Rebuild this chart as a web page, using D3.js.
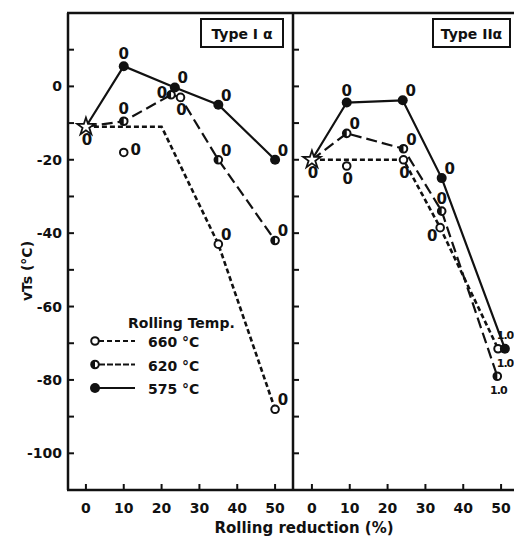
<!DOCTYPE html>
<html>
<head>
<meta charset="utf-8">
<script src="https://cdn.jsdelivr.net/npm/d3@7"></script>
<style>
  body { margin: 0; background: #fff; }
  text { font-family: "DejaVu Sans", sans-serif; fill: #111; }
</style>
</head>
<body>
<script>
    // ---- data ----
    var xTicks = [0, 10, 20, 30, 40, 50];
    var yTickLabels = [0, -20, -40, -60, -80, -100];
    var yMinorTicks = [10, 0, -10, -20, -30, -40, -50, -60, -70, -80, -90, -100];
    var seriesNames = ['660 °C', '620 °C', '575 °C'];
    var panelTitles = ['Type I α', 'Type IIα'];

    // Type I alpha
    var startI = [0, -11];
    var line660I = [[0, -11], [20, -11], [35, -43], [50, -88]];
    var pts660I = [[10, -18], [25, -3], [35, -43], [50, -88]];
    var line620I = [[0, -11], [10, -9.5], [22.5, -2.3], [25, -3], [35, -20], [50, -42]];
    var pts620I = [[10, -9.5], [22.5, -2.3], [35, -20], [50, -42]];
    var line575I = [[0, -11], [10, 5.5], [23.5, -0.3], [35, -5], [50, -20]];

    // Type II alpha
    var startII = [0, -20];
    var line660II = [[0, -20], [24.2, -20], [33.9, -38.5], [49.2, -71.5]];
    var pts660II = [[9.2, -21.7], [24.2, -20], [33.9, -38.5], [49.2, -71.5]];
    var line620II = [[0, -20], [9.2, -12.8], [24.2, -17], [34.3, -34], [49, -79]];
    var line575II = [[0, -20], [9.2, -4.4], [24, -3.8], [34.3, -25], [51, -71.5]];

    // small "0" / "1.0" notes next to the points: [x, y, text, side]
    var notesI = [
        [0, -11, '0', 's'], [10, 5.5, '0', 'n'], [10, -9.5, '0', 'n'], [10, -18, '0', 'e'],
        [23.5, -0.3, '0', 'ne'], [22.5, -2.3, '0', 'w'], [25, -3, '0', 's'],
        [35, -5, '0', 'ne'], [35, -20, '0', 'ne'], [50, -20, '0', 'ne'],
        [35, -43, '0', 'ne'], [50, -42, '0', 'ne'], [50, -88, '0', 'ne']
    ];
    var notesII = [
        [0, -20, '0', 's'], [9.2, -4.4, '0', 'n'], [24, -3.8, '0', 'ne'],
        [9.2, -12.8, '0', 'ne'], [24.2, -17, '0', 'ne'], [9.2, -21.7, '0', 's'],
        [24.2, -20, '0', 's'], [34.3, -25, '0', 'ne'], [34.3, -34, '0', 'n'],
        [33.9, -38.5, '0', 'sw'], [51, -71.5, '1.0', 'nn'], [49.2, -71.5, '1.0', 'se'],
        [49, -79, '1.0', 's']
    ];

    // ---- layout ----
    var W = 514, H = 537, plotTop = 13, plotBottom = 490;
    var svg = d3.select('body').append('svg').attr('width', W).attr('height', H);

    var y = d3.scaleLinear().domain([-110, 20]).range([plotBottom, plotTop]);
    var xI = d3.scaleLinear().domain([-5, 55]).range([67, 294]);
    var xII = d3.scaleLinear().domain([-5, 55]).range([293, 520]);

    var offs = {
        n: [0, -12], s: [1, 13], e: [12, -2], w: [-9, -2],
        ne: [8, -9], sw: [-8, 8], se: [8, 13], nn: [3, -15]
    };

    // frame
    var frame = svg.append('g').attr('stroke', '#111').attr('stroke-width', 2.5).attr('fill', 'none');
    frame.append('line').attr('x1', 67).attr('x2', W).attr('y1', plotTop).attr('y2', plotTop);
    frame.append('line').attr('x1', 67).attr('x2', W).attr('y1', plotBottom).attr('y2', plotBottom);
    frame.append('line').attr('x1', 68).attr('x2', 68).attr('y1', plotTop).attr('y2', plotBottom);
    frame.append('line').attr('x1', 293).attr('x2', 293).attr('y1', plotTop).attr('y2', plotBottom);

    function panel(x, axisX, showYLabels) {
        var g = svg.append('g');
        // y ticks, inward
        g.selectAll('.yt').data(yMinorTicks).enter().append('line')
            .attr('x1', axisX).attr('x2', axisX + 6)
            .attr('y1', function (d) { return y(d); }).attr('y2', function (d) { return y(d); })
            .attr('stroke', '#111').attr('stroke-width', 2);
        if (showYLabels) {
            g.selectAll('.yl').data(yTickLabels).enter().append('text')
                .attr('x', axisX - 6).attr('y', function (d) { return y(d) + 5; })
                .attr('text-anchor', 'end').attr('font-size', 14).attr('font-weight', 'bold')
                .text(function (d) { return d === 0 ? '0' : '-' + Math.abs(d); });
        }
        // x ticks, inward
        g.selectAll('.xt').data(xTicks).enter().append('line')
            .attr('x1', function (d) { return x(d); }).attr('x2', function (d) { return x(d); })
            .attr('y1', plotBottom).attr('y2', plotBottom - 6)
            .attr('stroke', '#111').attr('stroke-width', 2);
        g.selectAll('.xl').data(xTicks).enter().append('text')
            .attr('x', function (d) { return x(d); }).attr('y', 513)
            .attr('text-anchor', 'middle').attr('font-size', 14).attr('font-weight', 'bold')
            .text(function (d) { return d; });
        return g;
    }

    function drawLine(g, x, data, dash, width) {
        var line = d3.line().x(function (d) { return x(d[0]); }).y(function (d) { return y(d[1]); });
        g.append('path').datum(data).attr('d', line)
            .attr('fill', 'none').attr('stroke', '#111').attr('stroke-width', width)
            .attr('stroke-dasharray', dash);
    }

    function openDots(g, x, data) {
        g.selectAll(null).data(data).enter().append('circle')
            .attr('cx', function (d) { return x(d[0]); }).attr('cy', function (d) { return y(d[1]); })
            .attr('r', 3.8).attr('fill', '#fff').attr('stroke', '#111').attr('stroke-width', 2);
    }

    function halfDots(g, x, data) {
        openDots(g, x, data);
        var arc = d3.arc().innerRadius(0).outerRadius(3.8).startAngle(Math.PI).endAngle(2 * Math.PI);
        g.selectAll(null).data(data).enter().append('path')
            .attr('transform', function (d) { return 'translate(' + x(d[0]) + ',' + y(d[1]) + ')'; })
            .attr('d', arc()).attr('fill', '#111');
    }

    function filledDots(g, x, data) {
        g.selectAll(null).data(data).enter().append('circle')
            .attr('cx', function (d) { return x(d[0]); }).attr('cy', function (d) { return y(d[1]); })
            .attr('r', 5).attr('fill', '#111');
    }

    function star(g, x, p) {
        g.append('path')
            .attr('transform', 'translate(' + x(p[0]) + ',' + y(p[1]) + ')')
            .attr('d', d3.symbol().type(d3.symbolStar).size(95)())
            .attr('fill', '#fff').attr('stroke', '#111').attr('stroke-width', 1.8);
    }

    function notes(g, x, data) {
        g.selectAll(null).data(data).enter().append('text')
            .attr('x', function (d) {
                var px = x(d[0]) + offs[d[3]][0];
                return d[2] === '0' ? px : Math.min(px, W - 9);
            })
            .attr('y', function (d) { return y(d[1]) + offs[d[3]][1] + 5; })
            .attr('text-anchor', 'middle')
            .attr('font-family', '"DejaVu Sans Condensed", "DejaVu Sans", sans-serif')
            .attr('font-size', function (d) { return d[2] === '0' ? 15 : 11; })
            .attr('font-weight', 'bold')
            .attr('letter-spacing', function (d) { return d[2] === '0' ? 0 : -1; })
            .text(function (d) { return d[2]; });
    }

    function titleBox(x0, x1, label) {
        svg.append('rect').attr('x', x0).attr('y', 19).attr('width', x1 - x0).attr('height', 28)
            .attr('fill', '#fff').attr('stroke', '#111').attr('stroke-width', 2);
        svg.append('text').attr('x', (x0 + x1) / 2).attr('y', 39).attr('text-anchor', 'middle')
            .attr('font-size', 14).attr('font-weight', 'bold').text(label);
    }

    // ---- panel I ----
    var gI = panel(xI, 68, true);
    drawLine(gI, xI, line660I, '5,3', 2.6);
    drawLine(gI, xI, line620I, '11,5', 2.2);
    drawLine(gI, xI, line575I, null, 2.2);
    openDots(gI, xI, pts660I);
    halfDots(gI, xI, pts620I);
    filledDots(gI, xI, line575I.slice(1));
    star(gI, xI, startI);
    notes(gI, xI, notesI);
    titleBox(201, 283, panelTitles[0]);

    // ---- panel II ----
    var gII = panel(xII, 293, false);
    drawLine(gII, xII, line660II, '5,3', 2.6);
    drawLine(gII, xII, line620II, '11,5', 2.2);
    drawLine(gII, xII, line575II, null, 2.2);
    openDots(gII, xII, pts660II);
    halfDots(gII, xII, line620II.slice(1));
    filledDots(gII, xII, line575II.slice(1));
    star(gII, xII, startII);
    notes(gII, xII, notesII);
    titleBox(433, 510, panelTitles[1]);

    // ---- legend ----
    var leg = svg.append('g');
    leg.append('text').attr('x', 128).attr('y', 328).attr('font-size', 14).attr('font-weight', 'bold')
        .text('Rolling Temp.');
    var legDash = ['5,3', '6,2', null];
    seriesNames.forEach(function (name, i) {
        var ly = 341 + i * 23.5;
        leg.append('line').attr('x1', 99).attr('x2', 135).attr('y1', ly).attr('y2', ly)
            .attr('stroke', '#111').attr('stroke-width', 2.2).attr('stroke-dasharray', legDash[i]);
        var lx = d3.scaleLinear().domain([0, 1]).range([95, 96]);
        var pt = [[0, y.invert(ly)]];
        if (i === 0) openDots(leg, lx, pt);
        else if (i === 1) halfDots(leg, lx, pt);
        else filledDots(leg, lx, pt);
        leg.append('text').attr('x', 148).attr('y', ly + 6).attr('font-size', 14).attr('font-weight', 'bold')
            .text(name);
    });

    // ---- axis titles ----
    svg.append('text').attr('x', 304).attr('y', 533).attr('text-anchor', 'middle')
        .attr('font-size', 15).attr('font-weight', 'bold').text('Rolling reduction (%)');
    svg.append('text').attr('transform', 'translate(32,271) rotate(-90)').attr('text-anchor', 'middle')
        .attr('font-size', 14).attr('font-weight', 'bold').text('vTs (°C)');
</script>
</body>
</html>
